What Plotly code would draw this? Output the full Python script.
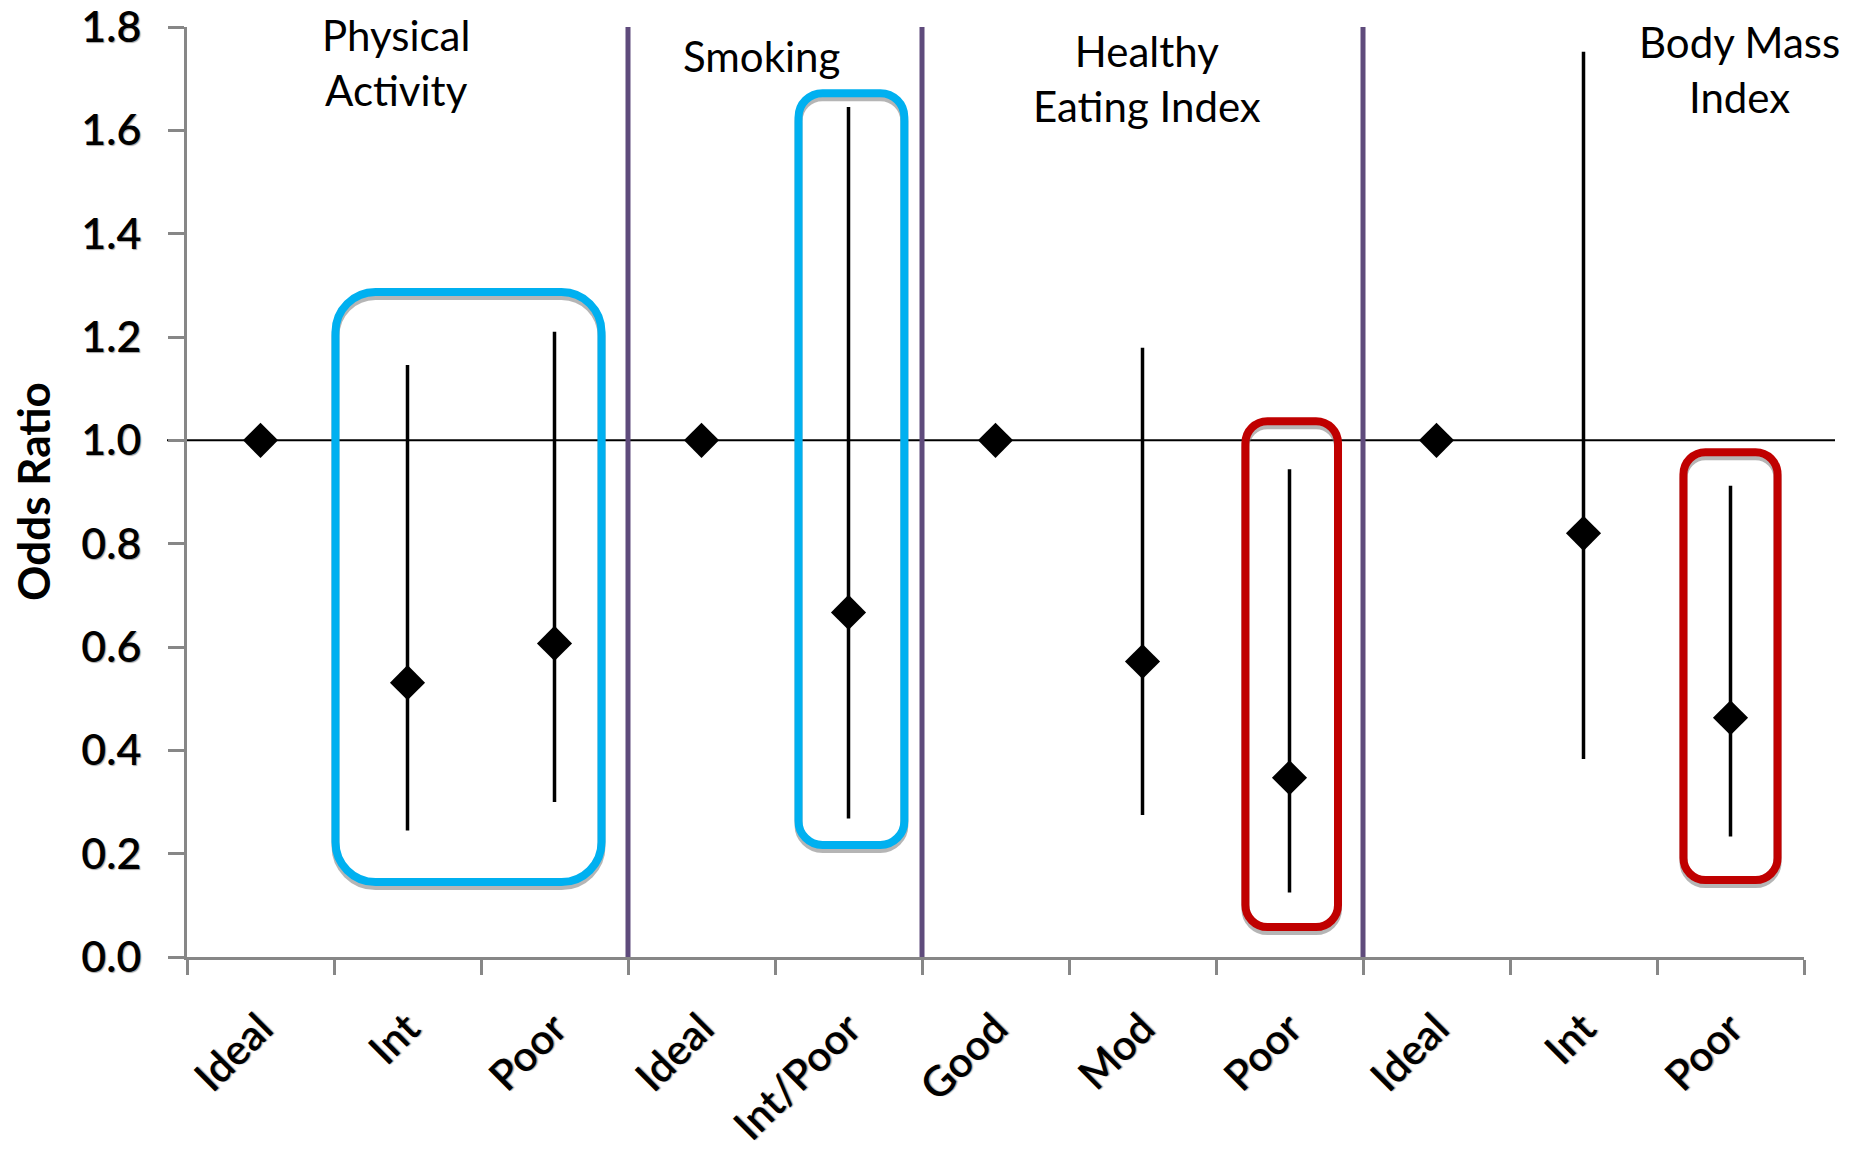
import plotly.graph_objects as go

# ---- data -----------------------------------------------------------------
categories = ["Ideal", "Int", "Poor", "Ideal", "Int/Poor", "Good", "Mod", "Poor",
              "Ideal", "Int", "Poor"]
odds_ratio = [1.0, 0.531, 0.607, 1.0, 0.667, 1.0, 0.572, 0.347, 1.0, 0.820, 0.463]
ci_lower = [None, 0.245, 0.300, None, 0.268, None, 0.275, 0.125, None, 0.383, 0.233]
ci_upper = [None, 1.146, 1.210, None, 1.645, None, 1.179, 0.944, None, 1.752, 0.912]

section_titles = ["Physical<br>Activity", "Smoking", "Healthy<br>Eating Index",
                  "Body Mass<br>Index"]
section_title_x = [1.92, 4.41, 7.03, 11.06]
section_title_y = [1.731, 1.744, 1.700, 1.717]

divider_x = [3.5, 5.5, 8.5]
reference_value = 1.0

# highlight frames: x from, x to, y from, y to, colour, corner radius (px)
highlight_boxes = [
    (1.51, 3.32, 0.145, 1.287, "#00B0F0", 40),
    (4.66, 5.38, 0.217, 1.672, "#00B0F0", 24),
    (7.70, 8.33, 0.058, 1.037, "#C00000", 22),
    (10.68, 11.32, 0.149, 0.977, "#C00000", 22),
]

# ---- layout geometry ------------------------------------------------------
W, H = 1868, 1151
M_L, M_R, M_T, M_B = 187, 64, 27, 194
X_RANGE = [0.5, 11.5]
Y_RANGE = [0.0, 1.8]
px_per_x = (W - M_L - M_R) / (X_RANGE[1] - X_RANGE[0])
px_per_y = (H - M_T - M_B) / (Y_RANGE[1] - Y_RANGE[0])

AXIS_GREY = "#878787"
FONT = "Lato, 'Open Sans', sans-serif"
TICK_FONT = dict(family=FONT, size=43, color="black", weight=600,
                 shadow="1px 1px 1px rgba(0,0,0,0.35)")
X_TICK_FONT = dict(TICK_FONT, size=42)

x_pos = list(range(1, len(categories) + 1))
err_plus = [0 if u is None else u - m for u, m in zip(ci_upper, odds_ratio)]
err_minus = [0 if l is None else m - l for l, m in zip(ci_lower, odds_ratio)]


def rounded_rect(x0, x1, y0, y1, r_px, dy=0.0):
    """SVG path (data units) of a rectangle with rounded corners."""
    k = 0.5523
    rx, ry = r_px / px_per_x, r_px / px_per_y
    y0, y1 = y0 + dy, y1 + dy
    return (
        f"M {x0 + rx},{y1} L {x1 - rx},{y1} "
        f"C {x1 - rx + k * rx},{y1} {x1},{y1 - ry + k * ry} {x1},{y1 - ry} "
        f"L {x1},{y0 + ry} "
        f"C {x1},{y0 + ry - k * ry} {x1 - rx + k * rx},{y0} {x1 - rx},{y0} "
        f"L {x0 + rx},{y0} "
        f"C {x0 + rx - k * rx},{y0} {x0},{y0 + ry - k * ry} {x0},{y0 + ry} "
        f"L {x0},{y1 - ry} "
        f"C {x0},{y1 - ry + k * ry} {x0 + rx - k * rx},{y1} {x0 + rx},{y1} Z"
    )


fig = go.Figure()
fig.add_trace(go.Scatter(
    x=x_pos, y=odds_ratio, mode="markers",
    marker=dict(symbol="diamond", size=27, color="black"),
    error_y=dict(type="data", symmetric=False, array=err_plus,
                 arrayminus=err_minus, color="black", thickness=3.5, width=0),
    showlegend=False, hoverinfo="skip",
))

shapes = []
# reference line at OR = 1
shapes.append(dict(type="line", xref="paper", yref="y",
                   x0=-20 / (W - M_L - M_R), x1=1 + 31 / (W - M_L - M_R),
                   y0=reference_value, y1=reference_value,
                   line=dict(color="black", width=2), layer="below"))
# section dividers
for xd in divider_x:
    shapes.append(dict(type="line", xref="x", yref="y", x0=xd, x1=xd,
                       y0=-20 / px_per_y, y1=Y_RANGE[1] + 5 / px_per_y,
                       line=dict(color="#5F4B7C", width=5), layer="below"))
# highlight frames with a soft drop shadow
for x0, x1, y0, y1, col, r in highlight_boxes:
    shapes.append(dict(type="path", xref="x", yref="y",
                       path=rounded_rect(x0, x1, y0, y1, r, dy=-4 / px_per_y),
                       line=dict(color="rgba(120,120,120,0.55)", width=8),
                       layer="below"))
    shapes.append(dict(type="path", xref="x", yref="y",
                       path=rounded_rect(x0, x1, y0, y1, r),
                       line=dict(color=col, width=8), layer="below"))

annotations = []
for txt, tx, ty in zip(section_titles, section_title_x, section_title_y):
    annotations.append(dict(text=txt, x=tx, y=ty, xref="x", yref="y",
                            xanchor="center", yanchor="middle", showarrow=False,
                            font=dict(family=FONT, size=42, color="black")))
annotations.append(dict(text="<b>Odds Ratio</b>", textangle=-90,
                        xref="paper", yref="paper",
                        x=(33 - M_L) / (W - M_L - M_R), y=0.5,
                        xanchor="center", yanchor="middle", showarrow=False,
                        font=dict(family=FONT, size=44, color="black")))

fig.update_layout(
    width=W, height=H,
    margin=dict(l=M_L, r=M_R, t=M_T, b=M_B, pad=0),
    paper_bgcolor="white", plot_bgcolor="white",
    shapes=shapes, annotations=annotations,
    xaxis=dict(
        range=X_RANGE, tickmode="array", tickvals=x_pos, ticktext=categories,
        tickangle=-45, ticks="", showgrid=False, zeroline=False,
        showline=True, linecolor=AXIS_GREY, linewidth=3,
        tickfont=X_TICK_FONT, ticklabelstandoff=27, automargin=False,
        minor=dict(tickmode="linear", tick0=0.5, dtick=1, ticks="outside",
                   ticklen=15, tickwidth=3, tickcolor=AXIS_GREY, showgrid=False),
    ),
    yaxis=dict(
        range=Y_RANGE, tickmode="linear", tick0=0, dtick=0.2, tickformat=".1f",
        ticks="outside", ticklen=16, tickwidth=3, tickcolor=AXIS_GREY,
        showgrid=False, zeroline=False,
        showline=True, linecolor=AXIS_GREY, linewidth=3,
        tickfont=TICK_FONT, ticklabelstandoff=18, automargin=False,
    ),
)

fig.write_html("out.html", config={"displayModeBar": False})
